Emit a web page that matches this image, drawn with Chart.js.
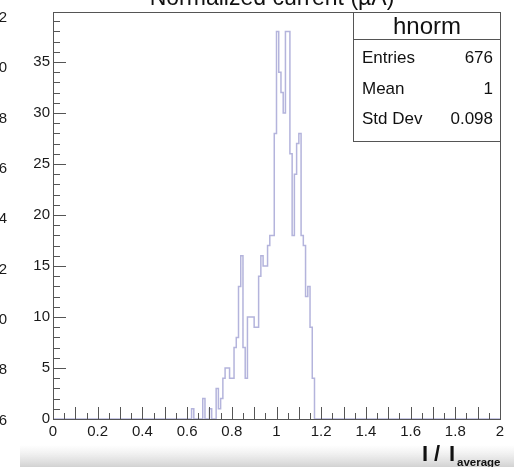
<!DOCTYPE html>
<html>
<head>
<meta charset="utf-8">
<title>hnorm</title>
<script src="https://cdn.jsdelivr.net/npm/chart.js@4.4.1/dist/chart.umd.min.js"></script>
<style>
  html, body { margin: 0; padding: 0; background: #ffffff; }
  canvas { display: block; }
</style>
</head>
<body>
<canvas id="hnorm" width="514" height="467"></canvas>
<script>
// histogramme hnorm : 200 bins entre 0 et 2
const histRange = [0, 2];
const counts = [
  0, 0, 0, 0, 0, 0, 0, 0, 0, 0, 0, 0, 0, 0, 0, 0, 0, 0, 0, 0,
  0, 0, 0, 0, 0, 0, 0, 0, 0, 0, 0, 0, 0, 0, 0, 0, 0, 0, 0, 0,
  0, 0, 0, 0, 0, 0, 0, 0, 0, 0, 0, 0, 0, 0, 0, 0, 0, 0, 0, 0,
  0, 0, 1, 0, 0, 0, 0, 2, 0, 0, 1, 0, 0, 3, 1, 2, 4, 5, 5, 4,
  4, 7, 8, 13, 16, 7, 4, 10, 10, 10, 9, 9, 14, 16, 15, 15, 17, 18, 18, 28,
  38, 34, 32, 30, 38, 38, 26, 18, 24, 27, 28, 18, 17, 12, 13, 9, 4, 0, 0, 0,
  0, 0, 0, 0, 0, 0, 0, 0, 0, 0, 0, 0, 0, 0, 0, 0, 0, 0, 0, 0,
  0, 0, 0, 0, 0, 0, 0, 0, 0, 0, 0, 0, 0, 0, 0, 0, 0, 0, 0, 0,
  0, 0, 0, 0, 0, 0, 0, 0, 0, 0, 0, 0, 0, 0, 0, 0, 0, 0, 0, 0,
  0, 0, 0, 0, 0, 0, 0, 0, 0, 0, 0, 0, 0, 0, 0, 0, 0, 0, 0, 0
];
const yMax = 39.9;

const xTickValues = [0, 0.2, 0.4, 0.6, 0.8, 1, 1.2, 1.4, 1.6, 1.8, 2];
const xTickLabels = ["0", "0.2", "0.4", "0.6", "0.8", "1", "1.2", "1.4", "1.6", "1.8", "2"];
const yTickValues = [0, 5, 10, 15, 20, 25, 30, 35];
const yTickLabels = ["0", "5", "10", "15", "20", "25", "30", "35"];

// étiquettes coupées du graphique voisin (bord gauche)
const sideLabels = ["22", "20", "18", "16", "14", "12", "10", "8", "6"];

const histTitle = "Normalized current (\u00b5A)";
const statsName = "hnorm";
const statsRows = [
  ["Entries", "676"],
  ["Mean", "1"],
  ["Std Dev", "0.098"]
];

const FONT = "'Liberation Sans', Arial, Helvetica, sans-serif";
const LINE = "#b4b4dc";

// points aux bords gauches des bins, escalier "before"
const binWidth = (histRange[1] - histRange[0]) / counts.length;
const points = counts.map((n, i) => ({ x: histRange[0] + i * binWidth, y: n }));
points.push({ x: histRange[1], y: 0 });

const rootFrame = {
  id: "rootFrame",
  afterDatasetsDraw(chart) {
    const { ctx, chartArea: a, scales } = chart;
    const sx = scales.x, sy = scales.y;
    ctx.save();
    ctx.strokeStyle = "#555";
    ctx.lineWidth = 1;
    ctx.strokeRect(Math.round(a.left) + 0.5, Math.round(a.top) + 0.5,
      Math.round(a.width), Math.round(a.height));

    ctx.beginPath();
    // petites graduations x tous les 0.05
    for (let i = 0; i <= 40; i++) {
      const px = Math.round(sx.getPixelForValue(i * 0.05)) + 0.5;
      const len = i % 2 === 0 ? 12 : 6;
      ctx.moveTo(px, a.bottom);
      ctx.lineTo(px, a.bottom - len);
    }
    // graduations y tous les 1
    for (let v = 0; v <= 39; v++) {
      const py = Math.round(sy.getPixelForValue(v)) + 0.5;
      const len = v % 5 === 0 ? 13 : 7;
      ctx.moveTo(a.left, py);
      ctx.lineTo(a.left + len, py);
    }
    ctx.stroke();
    ctx.restore();
  },
  afterDraw(chart) {
    const { ctx, chartArea: a } = chart;
    ctx.save();

    // titre (en partie hors cadre)
    ctx.fillStyle = "#111";
    ctx.font = "23px " + FONT;
    ctx.textAlign = "center";
    ctx.textBaseline = "alphabetic";
    ctx.fillText(histTitle, 272, 4.5);

    // restes d'étiquettes à gauche
    ctx.font = "15px " + FONT;
    ctx.textAlign = "right";
    ctx.textBaseline = "middle";
    ctx.fillStyle = "#1a1a1a";
    sideLabels.forEach((t, i) => ctx.fillText(t, 7, 18 + i * 50.3));

    // boîte de stats
    const bx = 353.5, by = a.top + 0.5, bw = 147, bh = 129;
    ctx.fillStyle = "#fff";
    ctx.fillRect(bx, by, bw, bh);
    ctx.strokeStyle = "#555";
    ctx.lineWidth = 1;
    ctx.strokeRect(bx, by, bw, bh);
    ctx.beginPath();
    ctx.moveTo(bx, 39.5);
    ctx.lineTo(bx + bw, 39.5);
    ctx.stroke();

    ctx.fillStyle = "#111";
    ctx.textBaseline = "alphabetic";
    ctx.font = "24px " + FONT;
    ctx.textAlign = "center";
    ctx.fillText(statsName, 427, 34);
    ctx.font = "17px " + FONT;
    statsRows.forEach((r, i) => {
      const yb = 63 + i * 30.5;
      ctx.textAlign = "left";
      ctx.fillText(r[0], 362, yb);
      ctx.textAlign = "right";
      ctx.fillText(r[1], 493, yb);
    });

    // bandeau gris en bas
    const g = ctx.createLinearGradient(0, 445, 0, 467);
    g.addColorStop(0, "rgba(220,220,220,0)");
    g.addColorStop(1, "rgba(205,205,205,0.9)");
    ctx.fillStyle = g;
    ctx.fillRect(20, 445, 494, 22);

    // titre de l'axe x : I / I_average
    ctx.fillStyle = "#111";
    ctx.textAlign = "left";
    ctx.font = "bold 22px " + FONT;
    ctx.fillText("I", 422, 461);
    ctx.fillText("/", 434, 461);
    ctx.fillText("I", 449, 461);
    ctx.font = "bold 11.5px " + FONT;
    ctx.fillText("average", 457, 466);
    ctx.restore();
  }
};

new Chart(document.getElementById("hnorm"), {
  type: "line",
  data: {
    datasets: [{
      label: statsName,
      data: points,
      stepped: true,
      borderColor: LINE,
      borderWidth: 1.5,
      pointRadius: 0,
      fill: false
    }]
  },
  options: {
    responsive: false,
    animation: false,
    layout: { padding: { left: 0, right: 14, top: 8, bottom: 0 } },
    plugins: { legend: { display: false }, tooltip: { enabled: false } },
    scales: {
      x: {
        type: "linear",
        min: histRange[0],
        max: histRange[1],
        grid: { display: false, drawTicks: false },
        border: { display: false },
        afterBuildTicks: s => { s.ticks = xTickValues.map(v => ({ value: v })); },
        afterFit: s => { s.height = 48; },
        ticks: {
          autoSkip: false,
          maxRotation: 0,
          padding: 4,
          color: "#1a1a1a",
          font: { family: FONT, size: 15 },
          callback: (v, i) => xTickLabels[i]
        }
      },
      y: {
        min: 0,
        max: yMax,
        grid: { display: false, drawTicks: false },
        border: { display: false },
        afterBuildTicks: s => { s.ticks = yTickValues.map(v => ({ value: v })); },
        afterFit: s => { s.width = 53; },
        ticks: {
          autoSkip: false,
          padding: 3,
          color: "#1a1a1a",
          font: { family: FONT, size: 15 },
          callback: (v, i) => yTickLabels[i]
        }
      }
    }
  },
  plugins: [rootFrame]
});
</script>
</body>
</html>
